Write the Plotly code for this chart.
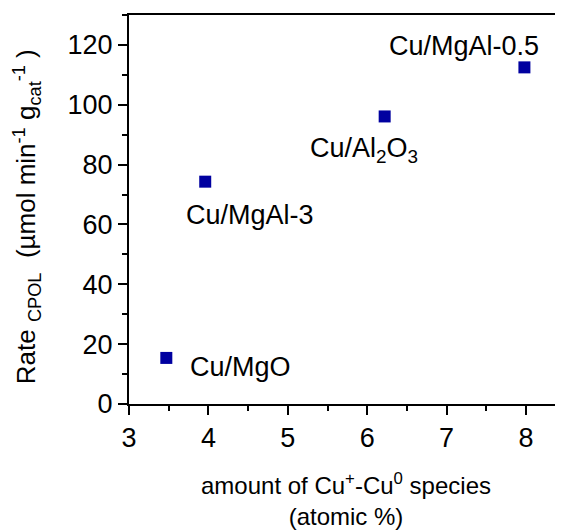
import plotly.graph_objects as go

# data
samples = ["Cu/MgO", "Cu/MgAl-3", "Cu/Al<sub>2</sub>O<sub>3</sub>", "Cu/MgAl-0.5"]
cu_species = [3.47, 3.96, 6.22, 7.98]
rate = [15.4, 74.3, 96.1, 112.5]

# label offsets in pixels (style)
label_dx = [74, 45, -21, -60]
label_dy = [-9, -33, -34, 21]

FONT = "Liberation Sans, Arial, sans-serif"

fig = go.Figure()
fig.add_trace(go.Scatter(
    x=cu_species, y=rate, mode="markers",
    marker=dict(symbol="square", size=12, color="#0000a0", line=dict(width=0)),
    showlegend=False, hoverinfo="skip",
))

for s, x, y, dx, dy in zip(samples, cu_species, rate, label_dx, label_dy):
    fig.add_annotation(x=x, y=y, xref="x", yref="y", text=s, showarrow=False,
                       xshift=dx, yshift=dy, xanchor="center", yanchor="middle",
                       font=dict(family=FONT, size=27, color="black"))

fig.update_layout(
    width=555, height=522,
    margin=dict(l=121, r=0, t=7, b=126),
    paper_bgcolor="white", plot_bgcolor="white",
    font=dict(family=FONT, color="black"),
    xaxis=dict(
        range=[3, 8.466], tickmode="array", tickvals=[3, 4, 5, 6, 7, 8],
        ticks="outside", ticklen=9, tickwidth=1.5, tickcolor="black",
        minor=dict(tickmode="array", tickvals=[3.5, 4.5, 5.5, 6.5, 7.5, 8.5], ticks="outside", ticklen=5, tickwidth=1.5, tickcolor="black"),
        showline=True, linecolor="black", linewidth=2, mirror=True,
        showgrid=False, zeroline=False,
        tickfont=dict(size=27),
        title=dict(text="amount of Cu<sup>+</sup>-Cu<sup>0</sup> species<br>(atomic %)",
                   font=dict(size=24), standoff=26),
    ),
    yaxis=dict(
        range=[0, 130], tickmode="array", tickvals=[0, 20, 40, 60, 80, 100, 120],
        ticks="outside", ticklen=9, tickwidth=1.5, tickcolor="black",
        minor=dict(tickmode="array", tickvals=[10, 30, 50, 70, 90, 110, 130], ticks="outside", ticklen=5, tickwidth=1.5, tickcolor="black"),
        showline=True, linecolor="black", linewidth=2, mirror=False,
        showgrid=False, zeroline=False,
        tickfont=dict(size=27),
        title=dict(text="Rate <sub>CPOL</sub>  (µmol min<sup>-1</sup> g<sub>cat</sub><sup>-1</sup> )&nbsp;&nbsp;",
                   font=dict(size=26), standoff=24),
    ),
)

fig.write_html("out.html")
